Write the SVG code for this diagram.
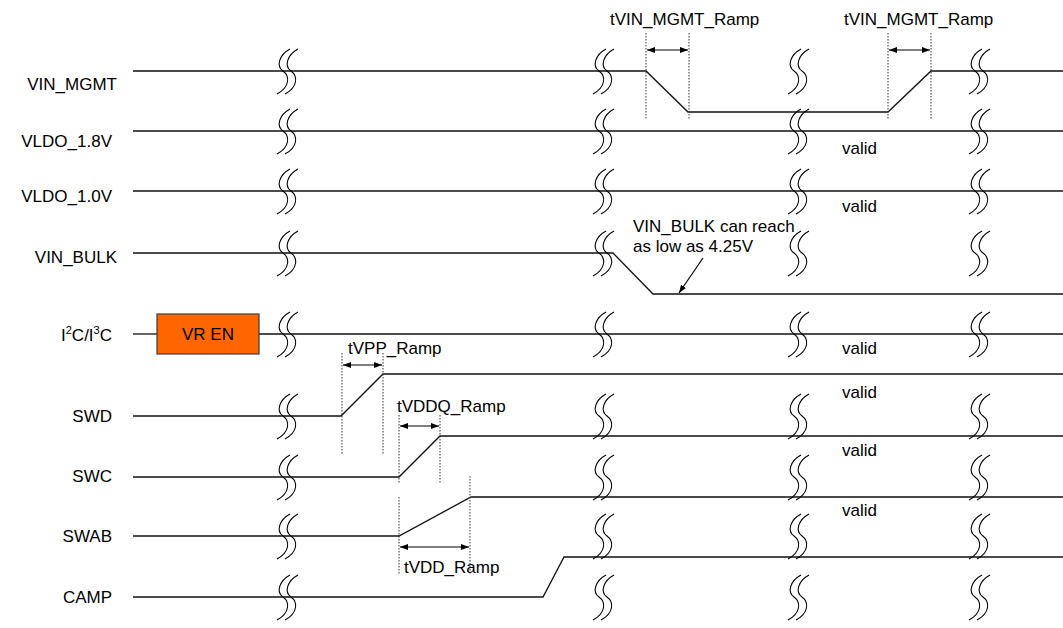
<svg xmlns="http://www.w3.org/2000/svg" xmlns:xlink="http://www.w3.org/1999/xlink" width="1063" height="628" viewBox="0 0 1063 628">
<style>
text{font-family:"Liberation Sans",Arial,sans-serif;font-size:17px;fill:#000}
.lbl{text-anchor:end}
.w{fill:none;stroke:#111;stroke-width:1.3}
.dot{fill:none;stroke:#333;stroke-width:1;stroke-dasharray:1.5 1.5}
.dim{fill:none;stroke:#000;stroke-width:1.2;marker-start:url(#ah);marker-end:url(#ah)}
.brk{fill:none;stroke:#000;stroke-width:1.1}
</style>
<defs>
<marker id="ah" viewBox="0 0 8 6" refX="8" refY="3" markerWidth="8" markerHeight="6" markerUnits="userSpaceOnUse" orient="auto-start-reverse"><path d="M0,0 L8,3 L0,6 z" fill="#000"/></marker>
<path id="sq" d="M3,-22 C-8,-16 -11,-5 -4,0 C3,5 3,16 -10,23 M11,-22 C0,-16 -3,-5 4,0 C11,5 11,16 -2,23"/>
</defs>
<rect width="1063" height="628" fill="#fff"/>

<g id="sig-vin-mgmt">
<text class="lbl" x="117" y="90">VIN_MGMT</text>
<polyline class="w" points="133,71 646,71 688,112 888,112 931,71 1063,71"/>
</g>
<g id="sig-vldo-18">
<text class="lbl" x="112" y="147">VLDO_1.8V</text>
<line class="w" x1="133" y1="131" x2="1063" y2="131"/>
<text x="842" y="154">valid</text>
</g>
<g id="sig-vldo-10">
<text class="lbl" x="112" y="202">VLDO_1.0V</text>
<line class="w" x1="133" y1="191" x2="1063" y2="191"/>
<text x="842" y="212">valid</text>
</g>
<g id="sig-vin-bulk">
<text class="lbl" x="117" y="263">VIN_BULK</text>
<polyline class="w" points="133,253 613,253 653,294 1063,294"/>
<text x="633" y="232">VIN_BULK can reach</text>
<text x="633" y="252">as low as 4.25V</text>
</g>
<g id="sig-i2c">
<text class="lbl" x="112" y="341">I<tspan font-size="11" dy="-7">2</tspan><tspan dy="7">C/I</tspan><tspan font-size="11" dy="-7">3</tspan><tspan dy="7">C</tspan></text>
<line class="w" x1="133" y1="334" x2="157" y2="334"/>
<line class="w" x1="259" y1="334" x2="1063" y2="334"/>
<text x="842" y="354">valid</text>
</g>
<g id="vr-en">
<rect x="157" y="314" width="102" height="40" fill="#ff6600" stroke="#3a3a3a" stroke-width="1.2"/>
<text x="208" y="340" text-anchor="middle">VR EN</text>
</g>
<g id="sig-swd">
<text class="lbl" x="112" y="422">SWD</text>
<polyline class="w" points="133,416 341,416 383,374 1063,374"/>
<text x="842" y="398">valid</text>
</g>
<g id="sig-swc">
<text class="lbl" x="112" y="482">SWC</text>
<polyline class="w" points="133,477 399,477 440,436 1063,436"/>
<text x="842" y="456">valid</text>
</g>
<g id="sig-swab">
<text class="lbl" x="112" y="542">SWAB</text>
<polyline class="w" points="133,536 399,536 471,497 1063,497"/>
<text x="842" y="516">valid</text>
</g>
<g id="sig-camp">
<text class="lbl" x="112" y="603">CAMP</text>
<polyline class="w" points="133,597 543,597 564,557 1063,557"/>
</g>

<g id="breaks" class="brk">
<use xlink:href="#sq" x="287" y="71"/><use xlink:href="#sq" x="603" y="71"/><use xlink:href="#sq" x="798" y="71"/><use xlink:href="#sq" x="979" y="71"/>
<use xlink:href="#sq" x="287" y="131"/><use xlink:href="#sq" x="603" y="131"/><use xlink:href="#sq" x="798" y="131"/><use xlink:href="#sq" x="979" y="131"/>
<use xlink:href="#sq" x="287" y="191"/><use xlink:href="#sq" x="603" y="191"/><use xlink:href="#sq" x="798" y="191"/><use xlink:href="#sq" x="979" y="191"/>
<use xlink:href="#sq" x="287" y="253"/><use xlink:href="#sq" x="603" y="253"/><use xlink:href="#sq" x="798" y="253"/><use xlink:href="#sq" x="979" y="253"/>
<use xlink:href="#sq" x="287" y="334"/><use xlink:href="#sq" x="603" y="334"/><use xlink:href="#sq" x="798" y="334"/><use xlink:href="#sq" x="979" y="334"/>
<use xlink:href="#sq" x="287" y="416"/><use xlink:href="#sq" x="603" y="416"/><use xlink:href="#sq" x="798" y="416"/><use xlink:href="#sq" x="979" y="416"/>
<use xlink:href="#sq" x="287" y="477"/><use xlink:href="#sq" x="603" y="477"/><use xlink:href="#sq" x="798" y="477"/><use xlink:href="#sq" x="979" y="477"/>
<use xlink:href="#sq" x="287" y="536"/><use xlink:href="#sq" x="603" y="536"/><use xlink:href="#sq" x="798" y="536"/><use xlink:href="#sq" x="979" y="536"/>
<use xlink:href="#sq" x="287" y="597"/><use xlink:href="#sq" x="603" y="597"/><use xlink:href="#sq" x="798" y="597"/><use xlink:href="#sq" x="979" y="597"/>
</g>

<g id="connectors">
<line class="dot" x1="646" y1="33" x2="646" y2="120"/>
<line class="dot" x1="689" y1="33" x2="689" y2="120"/>
<line class="dim" x1="647" y1="50" x2="688" y2="50"/>
<line class="dot" x1="888" y1="33" x2="888" y2="120"/>
<line class="dot" x1="931" y1="33" x2="931" y2="120"/>
<line class="dim" x1="889" y1="50" x2="930" y2="50"/>
<line x1="703" y1="258" x2="679" y2="293" stroke="#000" stroke-width="1.2" marker-end="url(#ah)"/>
<line class="dot" x1="342" y1="353" x2="342" y2="454"/>
<line class="dot" x1="383" y1="353" x2="383" y2="454"/>
<line class="dim" x1="343" y1="365" x2="382" y2="365"/>
<line class="dot" x1="399" y1="415" x2="399" y2="484"/>
<line class="dot" x1="440" y1="415" x2="440" y2="484"/>
<line class="dim" x1="400" y1="426" x2="439" y2="426"/>
<line class="dot" x1="399" y1="497" x2="399" y2="574"/>
<line class="dot" x1="470" y1="476" x2="470" y2="575"/>
<line class="dim" x1="400" y1="547" x2="469" y2="547"/>
</g>

<g id="timing-labels">
<text x="610" y="25">tVIN_MGMT_Ramp</text>
<text x="844" y="25">tVIN_MGMT_Ramp</text>
<text x="348" y="354">tVPP_Ramp</text>
<text x="397" y="412">tVDDQ_Ramp</text>
<text x="404" y="573">tVDD_Ramp</text>
</g>
</svg>
